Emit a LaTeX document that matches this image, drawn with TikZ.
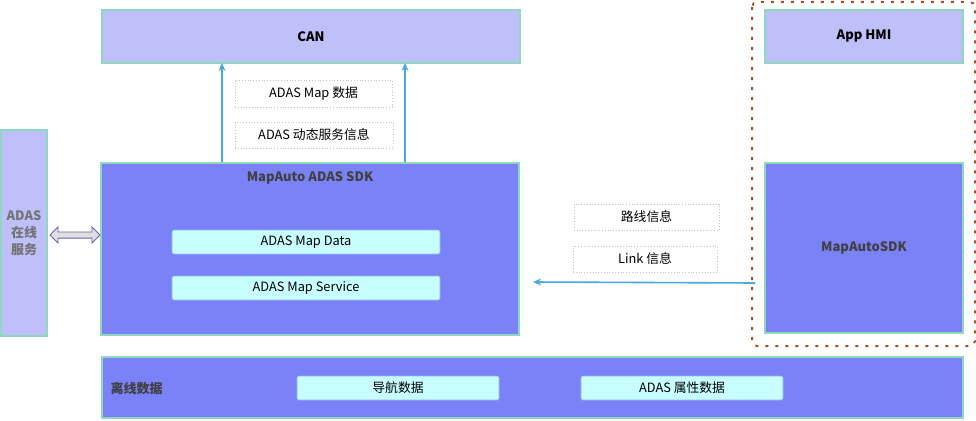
\documentclass[tikz,border=0pt]{standalone}
\usepackage{fontspec}
\setmainfont{Noto Sans CJK SC}
\usetikzlibrary{arrows.meta,shapes.arrows}
\definecolor{lav}{HTML}{BFC0F9}
\definecolor{blu}{HTML}{7B82F7}
\definecolor{grn}{HTML}{8ED8C0}
\definecolor{cy}{HTML}{C8FEFF}
\definecolor{cyb}{HTML}{8FB8F0}
\definecolor{arr}{HTML}{4AA8E0}
\definecolor{brn}{HTML}{A94C22}
\definecolor{dotc}{HTML}{C8C4B0}
\definecolor{dbl}{HTML}{6A60B8}
\begin{document}
\begin{tikzpicture}[x=1pt,y=-1pt,
  box/.style={draw=grn,line width=2pt,inner sep=0pt},
  inbox/.style={draw=cyb,fill=cy,line width=0.6pt,rounded corners=2pt,inner sep=0pt},
  lbl/.style={draw=dotc,dotted,line width=0.8pt,inner sep=0pt,fill=white},
  tf/.style={font=\fontsize{12.8}{15}\selectfont},
  bf/.style={font=\fontsize{13}{15}\selectfont\bfseries},
  conn/.style={draw=arr,line width=1.6pt,-{Stealth[length=8pt,width=7pt]}}]
\useasboundingbox (0,0) rectangle (976,420);
% dashed group
\draw[brn,line width=2pt,dash pattern=on 3pt off 7pt,rounded corners=5pt] (752,2) rectangle (975,346);
% boxes
\node[box,fill=lav,minimum width=418,minimum height=53,bf,text=black] (can) at (311,36.5) {CAN};
\node[box,fill=lav,minimum width=198,minimum height=53,bf,text=black] (hmi) at (864,36.5) {App HMI};
\node[box,fill=blu,minimum width=418,minimum height=172] (sdk) at (310,249) {};
\node[bf,text=black!75] (sdktitle) at (310,178) {MapAuto ADAS SDK};
\node[box,fill=lav,minimum width=46,minimum height=206,bf,text=black!55,align=center] (online) at (24,233) {ADAS\\[2pt]在线\\[2pt]服务};
\node[box,fill=blu,minimum width=198,minimum height=170,bf,text=black!75] (msdk) at (864,248) {MapAutoSDK};
\node[box,fill=blu,minimum width=861,minimum height=61] (off) at (532.5,387.5) {};
\node[bf,text=black!75,anchor=west] (offt) at (107,389) {离线数据};
% inner boxes
\node[inbox,minimum width=268,minimum height=24,tf] (md) at (306,242) {ADAS Map Data};
\node[inbox,minimum width=268,minimum height=24,tf] (ms) at (306,288) {ADAS Map Service};
\node[inbox,minimum width=202,minimum height=24,tf] (nav) at (398,388) {导航数据};
\node[inbox,minimum width=202,minimum height=24,tf] (attr) at (682,388) {ADAS 属性数据};
% labels
\node[lbl,minimum width=157,minimum height=27,tf] (l1) at (313.5,93.5) {ADAS Map 数据};
\node[lbl,minimum width=158,minimum height=26,tf] (l2) at (314,135) {ADAS 动态服务信息};
\node[lbl,minimum width=145,minimum height=26,tf] (l3) at (646.5,217) {路线信息};
\node[lbl,minimum width=144,minimum height=26,tf] (l4) at (645,259) {Link 信息};
% arrows
\coordinate (a1s) at (222,162); \coordinate (a1e) at (222,63);
\coordinate (a2s) at (405,162); \coordinate (a2e) at (405,63);
\draw[conn] (a1s) -- (a1e);
\draw[conn] (a2s) -- (a2e);
\coordinate (hs) at (755,283);
\coordinate (he) at (533,282);
\draw[conn] (hs) -- (he);
% double arrow
\node[double arrow,draw=dbl,fill=black!12,line width=0.8pt,minimum width=16pt,double arrow head extend=3pt,inner sep=1.5pt,minimum height=50pt,double arrow head indent=0pt] (dbl) at (75,235) {};
\end{tikzpicture}
\end{document}
